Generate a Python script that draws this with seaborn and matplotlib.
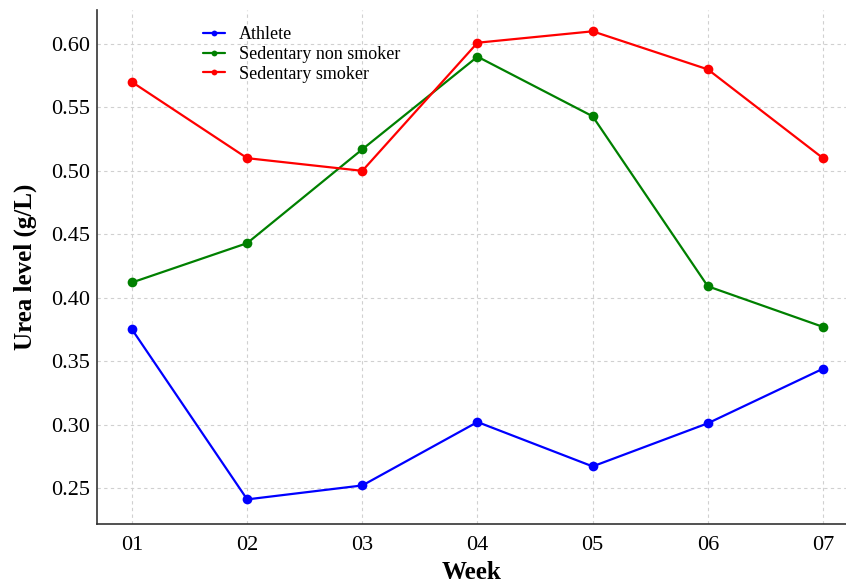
import matplotlib
matplotlib.use("Agg")
import matplotlib.pyplot as plt
import seaborn as sns
import pandas as pd

weeks = ["01", "02", "03", "04", "05", "06", "07"]
athlete = [0.375, 0.241, 0.252, 0.302, 0.267, 0.301, 0.344]
sed_non_smoker = [0.412, 0.443, 0.517, 0.590, 0.543, 0.409, 0.377]
sed_smoker = [0.570, 0.510, 0.500, 0.601, 0.610, 0.580, 0.510]
series_names = ["Athlete", "Sedentary non smoker", "Sedentary smoker"]
colors = ["#0000ff", "#008000", "#ff0000"]

sns.set_theme(style="white")
plt.rcParams['font.family'] = ['Liberation Serif', 'DejaVu Serif']
plt.rcParams['text.color'] = 'black'
plt.rcParams['axes.labelcolor'] = 'black'
plt.rcParams['xtick.color'] = 'black'
plt.rcParams['ytick.color'] = 'black'

rows = []
for name, vals in zip(series_names, [athlete, sed_non_smoker, sed_smoker]):
    for i, (w, v) in enumerate(zip(weeks, vals)):
        rows.append({"idx": i + 1, "week": w, "value": v, "series": name})
df = pd.DataFrame(rows)

fig = plt.figure(figsize=(8.46, 5.85), dpi=100)
ax = fig.add_axes([97/846, 61/585, (846-97)/846, (524-10)/585])

sns.lineplot(data=df, x="idx", y="value", hue="series", hue_order=series_names,
             palette=colors, marker="o", markersize=7, markeredgewidth=0,
             linewidth=1.6, ax=ax, legend=True)

ax.set_xlim(0.696, 7.2)
ax.set_ylim(0.2216, 0.6268)
ax.set_xticks(range(1, 8))
ax.set_xticklabels(weeks)
ax.set_yticks([0.25, 0.30, 0.35, 0.40, 0.45, 0.50, 0.55, 0.60])
ax.set_yticklabels(["0.25", "0.30", "0.35", "0.40", "0.45", "0.50", "0.55", "0.60"])
ax.tick_params(axis="both", labelsize=16, direction="in", length=4, color="#555555")
ax.tick_params(axis="x", pad=9)
ax.tick_params(axis="y", pad=5)
ax.grid(True, linestyle=(0, (3, 3)), color="#d0d0d0", linewidth=0.8)
for s in ["top", "right"]:
    ax.spines[s].set_visible(False)
for s in ["left", "bottom"]:
    ax.spines[s].set_color("#333333")
    ax.spines[s].set_linewidth(1.2)

ax.set_xlabel("Week", fontsize=18, fontweight="bold", labelpad=4)
ax.set_ylabel("Urea level (g/L)", fontsize=18, fontweight="bold", labelpad=10)

handles, labels = ax.get_legend_handles_labels()
ax.legend(handles, labels, loc="upper left", bbox_to_anchor=(0.12, 1.0),
          frameon=False, fontsize=13, handlelength=1.2, handletextpad=0.8,
          labelspacing=0.15, markerscale=0.6)

fig.savefig("out.png", dpi=100)
